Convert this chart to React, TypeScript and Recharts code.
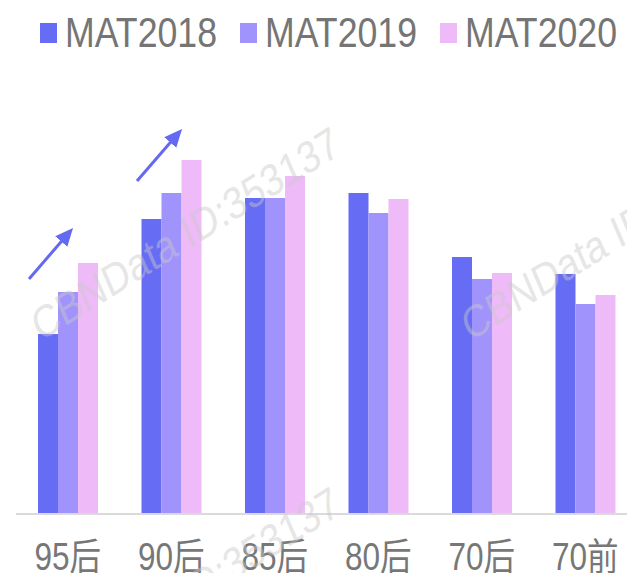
import { BarChart, Bar, XAxis, YAxis } from "recharts";

const categories = ["95后", "90后", "85后", "80后", "70后", "70前"];
const mat2018 = [180, 295, 316, 321, 257, 240];
const mat2019 = [222, 321, 316, 301, 235, 210];
const mat2020 = [251, 354, 338, 315, 241, 219];

const seriesNames = ["MAT2018", "MAT2019", "MAT2020"];
const seriesColors = ["#676cf5", "#a193fc", "#efbaf8"];

const data = categories.map((c, i) => ({
    name: c,
    MAT2018: mat2018[i],
    MAT2019: mat2019[i],
    MAT2020: mat2020[i],
}));

const FONT = "'Liberation Sans', Arial, 'Noto Sans CJK SC', sans-serif";
const SQUISH = 0.83; // the source picture is a bit narrowed

const CategoryTick = (props: any) => {
    const { x, y, payload } = props;
    return (
        <text
            transform={`translate(${x},${y + 56}) scale(${SQUISH},1)`}
            textAnchor="middle"
            fontSize={38}
            fontFamily={FONT}
            fill="#777777"
        >
            {payload.value}
        </text>
    );
};

const Overlay = () => (
    <svg
        width={627}
        height={573}
        style={{ position: "absolute", left: 0, top: 0, pointerEvents: "none" }}
    >
        <defs>
            <marker
                id="head"
                viewBox="0 0 18 16"
                refX={10}
                refY={8}
                markerWidth={18}
                markerHeight={16}
                markerUnits="userSpaceOnUse"
                orient="auto"
            >
                <path d="M0,0 L18,8 L0,16 z" fill="#6469f2" />
            </marker>
        </defs>

        {/* legend */}
        {seriesNames.map((s, i) => (
            <g key={s}>
                <rect x={40 + i * 200} y={23} width={17} height={20} fill={seriesColors[i]} />
                <text
                    transform={`translate(${65 + i * 200},47) scale(${SQUISH},1)`}
                    fontSize={43}
                    fontFamily={FONT}
                    fill="#757575"
                >
                    {s}
                </text>
            </g>
        ))}

        {/* growth arrows */}
        <line x1={29} y1={279} x2={67.8} y2={234} stroke="#6469f2" strokeWidth={3} markerEnd="url(#head)" />
        <line x1={137} y1={181} x2={176.8} y2={135} stroke="#6469f2" strokeWidth={3} markerEnd="url(#head)" />

        {/* watermark */}
        {[
            [40, 342],
            [470, 342],
            [40, 702],
        ].map(([wx, wy], i) => (
            <text
                key={i}
                transform={`translate(${wx},${wy}) scale(${SQUISH},1) rotate(-27.4)`}
                fontSize={45}
                fontFamily={FONT}
                fill="#c8c8c8"
                opacity={0.45}
            >
                CBNData ID:353137
            </text>
        ))}
    </svg>
);

export default function App() {
    return (
        <div
            style={{
                position: "absolute",
                left: 0,
                top: 0,
                width: 627,
                height: 573,
                overflow: "hidden",
                background: "#ffffff",
            }}
        >
            <BarChart
                width={640}
                height={573}
                data={data}
                margin={{ top: 114, right: 3, left: 16, bottom: 0 }}
                barSize={20}
                barGap={0}
            >
                <XAxis
                    dataKey="name"
                    height={59}
                    tickLine={false}
                    tickSize={0}
                    tickMargin={0}
                    axisLine={{ stroke: "#dadada", strokeWidth: 2 }}
                    tick={<CategoryTick />}
                    interval={0}
                />
                <YAxis hide domain={[0, 400]} />
                {seriesNames.map((s, i) => (
                    <Bar key={s} dataKey={s} fill={seriesColors[i]} isAnimationActive={false} />
                ))}
            </BarChart>
            <Overlay />
        </div>
    );
}
